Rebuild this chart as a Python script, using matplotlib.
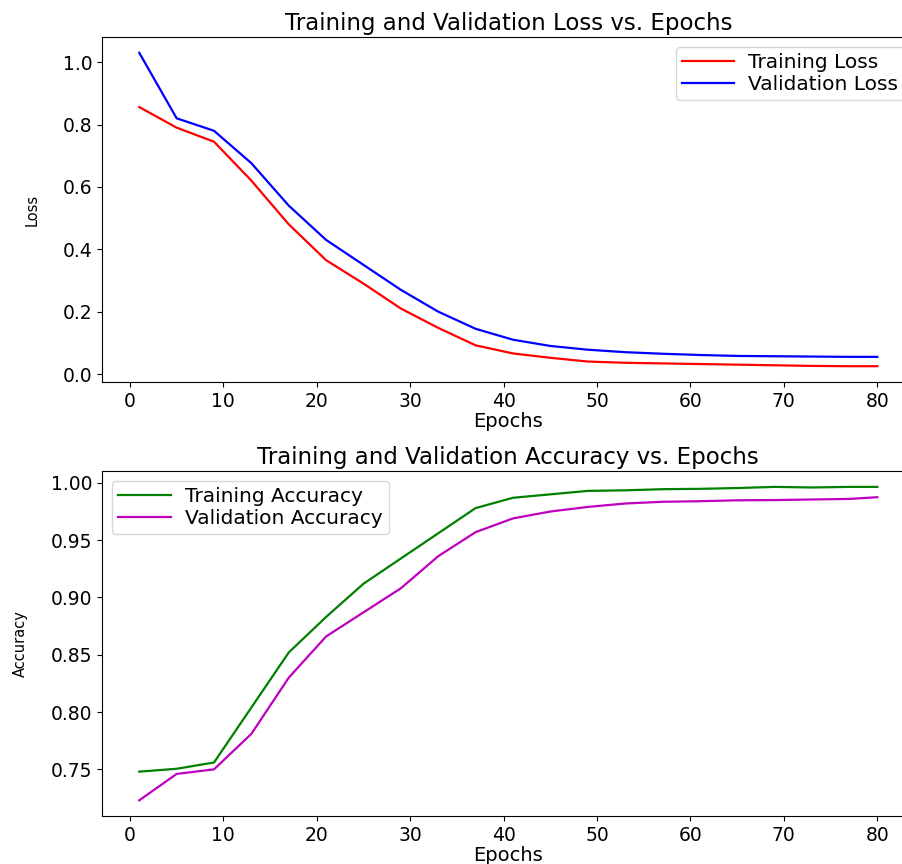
import matplotlib
matplotlib.use('Agg')
import matplotlib.pyplot as plt

# epochs sampled every 4 epochs, plus the final one
epochs = [1, 5, 9, 13, 17, 21, 25, 29, 33, 37, 41, 45, 49, 53, 57, 61, 65, 69, 73, 77, 80]

train_loss = [0.856, 0.79, 0.745, 0.62, 0.48, 0.365, 0.29, 0.21, 0.148, 0.092, 0.066,
              0.052, 0.040, 0.036, 0.034, 0.032, 0.030, 0.028, 0.026, 0.025, 0.025]
val_loss = [1.03, 0.82, 0.78, 0.676, 0.54, 0.43, 0.35, 0.27, 0.20, 0.145, 0.11,
            0.09, 0.078, 0.07, 0.065, 0.061, 0.058, 0.057, 0.056, 0.055, 0.055]

train_acc = [0.748, 0.7505, 0.756, 0.804, 0.852, 0.883, 0.912, 0.934, 0.956, 0.978, 0.987,
             0.990, 0.993, 0.9935, 0.9945, 0.9948, 0.9955, 0.9965, 0.996, 0.9965, 0.9965]
val_acc = [0.723, 0.746, 0.750, 0.781, 0.830, 0.866, 0.887, 0.908, 0.936, 0.957, 0.969,
           0.975, 0.979, 0.982, 0.9835, 0.984, 0.9848, 0.985, 0.9855, 0.986, 0.9875]

fig = plt.figure(figsize=(9.02, 8.64), dpi=100)
ax1 = fig.add_axes([0.1135, 0.558, 0.900, 0.399])
ax2 = fig.add_axes([0.1135, 0.0556, 0.900, 0.399])

tick_fs = 13.5
leg_kw = dict(fontsize=14.5, handlelength=2.6, handletextpad=0.7,
              labelspacing=0.15, borderpad=0.3)

# 损失曲线
ax1.plot(epochs, train_loss, color='red', linewidth=1.6, label='Training Loss')
ax1.plot(epochs, val_loss, color='blue', linewidth=1.6, label='Validation Loss')
ax1.set_title('Training and Validation Loss vs. Epochs', fontsize=16.5, pad=5)
ax1.set_xlabel('Epochs', fontsize=14, labelpad=1)
ax1.set_ylabel('Loss', fontsize=10.5, labelpad=17)
ax1.legend(loc='upper right', **leg_kw)
ax1.tick_params(labelsize=tick_fs)

# 准确率曲线
ax2.plot(epochs, train_acc, color='green', linewidth=1.6, label='Training Accuracy')
ax2.plot(epochs, val_acc, color='m', linewidth=1.6, label='Validation Accuracy')
ax2.set_title('Training and Validation Accuracy vs. Epochs', fontsize=16.5, pad=5)
ax2.set_xlabel('Epochs', fontsize=14, labelpad=1)
ax2.set_ylabel('Accuracy', fontsize=10.5, labelpad=17)
ax2.legend(loc='upper left', **leg_kw)
ax2.tick_params(labelsize=tick_fs)

plt.savefig('out.png', dpi=100)
